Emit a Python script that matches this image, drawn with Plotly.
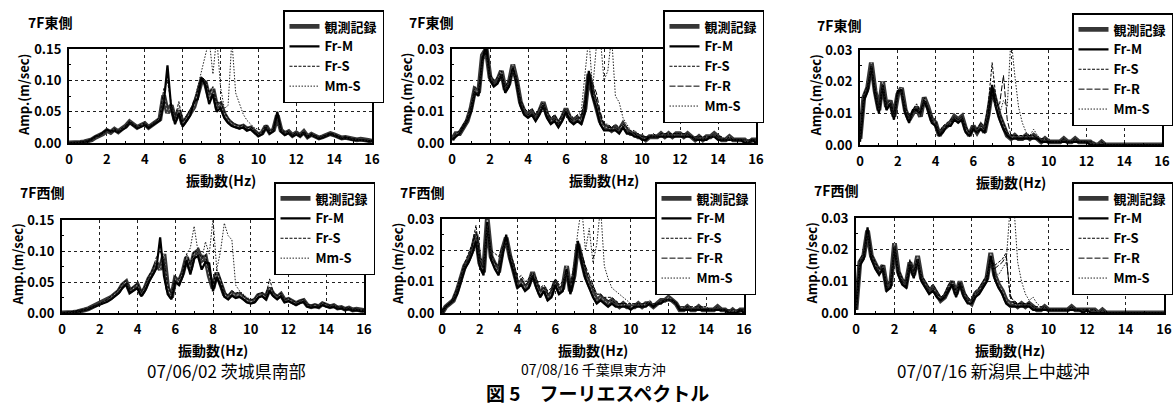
import plotly.graph_objects as go

# Frequency grid (Hz) shared by every spectrum
FREQ = [round(0.2 * k, 1) for k in range(81)]

# ---- 07/06/02 茨城県南部, 7F東側 (m/sec) ----
A_OBS = [0.000, 0.000, 0.001, 0.001, 0.002, 0.003, 0.005, 0.009, 0.011, 0.015,
         0.020, 0.017, 0.022, 0.018, 0.023, 0.027, 0.034, 0.030, 0.025, 0.028,
         0.031, 0.025, 0.029, 0.033, 0.038, 0.076, 0.048, 0.060, 0.036, 0.052,
         0.030, 0.038, 0.048, 0.058, 0.078, 0.100, 0.096, 0.072, 0.086, 0.058,
         0.062, 0.046, 0.036, 0.030, 0.027, 0.025, 0.027, 0.022, 0.024, 0.018,
         0.013, 0.016, 0.027, 0.017, 0.021, 0.044, 0.020, 0.015, 0.018, 0.012,
         0.016, 0.012, 0.018, 0.010, 0.014, 0.011, 0.008, 0.010, 0.012, 0.015,
         0.013, 0.010, 0.008, 0.009, 0.007, 0.006, 0.005, 0.006, 0.004, 0.004,
         0.003]
A_FRM = [0.000, 0.000, 0.001, 0.001, 0.002, 0.003, 0.006, 0.010, 0.012, 0.016,
         0.021, 0.018, 0.020, 0.017, 0.021, 0.025, 0.032, 0.028, 0.024, 0.026,
         0.029, 0.024, 0.028, 0.031, 0.036, 0.062, 0.124, 0.055, 0.030, 0.048,
         0.026, 0.035, 0.044, 0.066, 0.070, 0.104, 0.092, 0.062, 0.078, 0.050,
         0.056, 0.040, 0.032, 0.027, 0.025, 0.023, 0.025, 0.020, 0.022, 0.016,
         0.011, 0.014, 0.024, 0.015, 0.019, 0.050, 0.018, 0.013, 0.016, 0.011,
         0.014, 0.011, 0.016, 0.009, 0.013, 0.010, 0.007, 0.009, 0.011, 0.014,
         0.012, 0.009, 0.007, 0.008, 0.006, 0.005, 0.005, 0.005, 0.004, 0.003,
         0.003]
A_FRS = [0.000, 0.000, 0.001, 0.001, 0.002, 0.004, 0.006, 0.011, 0.013, 0.017,
         0.022, 0.019, 0.023, 0.019, 0.024, 0.028, 0.035, 0.031, 0.026, 0.029,
         0.032, 0.026, 0.030, 0.035, 0.042, 0.086, 0.098, 0.064, 0.040, 0.066,
         0.034, 0.042, 0.054, 0.064, 0.084, 0.106, 0.100, 0.080, 0.090, 0.064,
         0.066, 0.050, 0.040, 0.034, 0.030, 0.027, 0.029, 0.024, 0.026, 0.020,
         0.015, 0.017, 0.029, 0.019, 0.022, 0.046, 0.022, 0.017, 0.019, 0.013,
         0.017, 0.013, 0.019, 0.011, 0.015, 0.012, 0.009, 0.011, 0.013, 0.016,
         0.014, 0.011, 0.009, 0.010, 0.008, 0.007, 0.006, 0.006, 0.005, 0.004,
         0.004]
A_MMS = [0.000, 0.000, 0.001, 0.001, 0.002, 0.003, 0.005, 0.009, 0.012, 0.015,
         0.019, 0.017, 0.021, 0.018, 0.022, 0.026, 0.032, 0.029, 0.025, 0.027,
         0.030, 0.026, 0.030, 0.034, 0.040, 0.070, 0.060, 0.058, 0.040, 0.056,
         0.036, 0.044, 0.054, 0.066, 0.090, 0.118, 0.145, 0.165, 0.110, 0.170,
         0.090, 0.055, 0.060, 0.165, 0.080, 0.062, 0.046, 0.036, 0.030, 0.024,
         0.022, 0.020, 0.024, 0.018, 0.020, 0.036, 0.020, 0.016, 0.017, 0.012,
         0.015, 0.012, 0.016, 0.010, 0.013, 0.011, 0.008, 0.010, 0.011, 0.013,
         0.012, 0.009, 0.008, 0.008, 0.007, 0.006, 0.005, 0.005, 0.004, 0.004,
         0.003]

# ---- 07/08/16 千葉県東方沖, 7F東側 ----
B_OBS = [0.001, 0.003, 0.003, 0.005, 0.007, 0.011, 0.017, 0.016, 0.028, 0.030,
         0.021, 0.019, 0.020, 0.023, 0.017, 0.019, 0.025, 0.020, 0.013, 0.010,
         0.009, 0.010, 0.008, 0.010, 0.013, 0.009, 0.007, 0.008, 0.006, 0.008,
         0.011, 0.008, 0.007, 0.008, 0.007, 0.011, 0.022, 0.016, 0.012, 0.007,
         0.005, 0.005, 0.004, 0.005, 0.004, 0.006, 0.004, 0.003, 0.003, 0.002,
         0.002, 0.001, 0.002, 0.002, 0.002, 0.003, 0.002, 0.003, 0.002, 0.003,
         0.003, 0.002, 0.003, 0.002, 0.001, 0.002, 0.001, 0.002, 0.002, 0.003,
         0.002, 0.001, 0.001, 0.002, 0.001, 0.001, 0.001, 0.001, 0.000, 0.001,
         0.001]
B_FRM = [0.001, 0.002, 0.003, 0.005, 0.007, 0.010, 0.016, 0.015, 0.027, 0.031,
         0.020, 0.018, 0.019, 0.022, 0.016, 0.018, 0.024, 0.019, 0.012, 0.009,
         0.008, 0.009, 0.007, 0.009, 0.012, 0.008, 0.006, 0.007, 0.005, 0.007,
         0.010, 0.007, 0.006, 0.007, 0.006, 0.010, 0.023, 0.015, 0.011, 0.006,
         0.004, 0.004, 0.004, 0.004, 0.003, 0.005, 0.003, 0.003, 0.002, 0.002,
         0.001, 0.001, 0.002, 0.002, 0.002, 0.002, 0.002, 0.002, 0.002, 0.002,
         0.002, 0.002, 0.002, 0.002, 0.001, 0.001, 0.001, 0.001, 0.002, 0.002,
         0.001, 0.001, 0.001, 0.001, 0.001, 0.001, 0.001, 0.000, 0.000, 0.001,
         0.000]
B_FRS = [0.001, 0.003, 0.004, 0.006, 0.008, 0.012, 0.018, 0.017, 0.027, 0.029,
         0.022, 0.020, 0.021, 0.023, 0.018, 0.020, 0.024, 0.021, 0.014, 0.011,
         0.010, 0.011, 0.009, 0.011, 0.013, 0.010, 0.008, 0.009, 0.007, 0.009,
         0.011, 0.009, 0.008, 0.009, 0.009, 0.014, 0.021, 0.018, 0.014, 0.009,
         0.006, 0.006, 0.005, 0.006, 0.005, 0.006, 0.005, 0.004, 0.003, 0.003,
         0.002, 0.002, 0.002, 0.003, 0.002, 0.003, 0.003, 0.003, 0.003, 0.003,
         0.003, 0.003, 0.003, 0.002, 0.002, 0.002, 0.002, 0.002, 0.002, 0.003,
         0.002, 0.002, 0.001, 0.002, 0.001, 0.001, 0.001, 0.001, 0.001, 0.001,
         0.001]
B_FRR = [0.001, 0.002, 0.003, 0.005, 0.007, 0.011, 0.016, 0.016, 0.026, 0.029,
         0.021, 0.019, 0.020, 0.022, 0.017, 0.019, 0.024, 0.020, 0.013, 0.010,
         0.009, 0.010, 0.008, 0.010, 0.012, 0.009, 0.007, 0.008, 0.006, 0.008,
         0.010, 0.008, 0.007, 0.008, 0.008, 0.012, 0.020, 0.019, 0.016, 0.010,
         0.006, 0.005, 0.005, 0.005, 0.004, 0.005, 0.004, 0.003, 0.003, 0.002,
         0.002, 0.002, 0.002, 0.002, 0.002, 0.003, 0.002, 0.003, 0.002, 0.003,
         0.003, 0.002, 0.003, 0.002, 0.001, 0.002, 0.001, 0.002, 0.002, 0.002,
         0.002, 0.001, 0.001, 0.001, 0.001, 0.001, 0.001, 0.001, 0.000, 0.001,
         0.001]
B_MMS = [0.001, 0.003, 0.003, 0.005, 0.007, 0.011, 0.016, 0.016, 0.026, 0.028,
         0.021, 0.019, 0.020, 0.022, 0.017, 0.019, 0.023, 0.020, 0.013, 0.010,
         0.009, 0.010, 0.008, 0.010, 0.012, 0.009, 0.007, 0.008, 0.007, 0.008,
         0.011, 0.009, 0.008, 0.009, 0.010, 0.022, 0.034, 0.017, 0.031, 0.034,
         0.020, 0.023, 0.034, 0.015, 0.013, 0.008, 0.006, 0.004, 0.004, 0.003,
         0.002, 0.002, 0.002, 0.002, 0.002, 0.003, 0.002, 0.003, 0.002, 0.003,
         0.003, 0.002, 0.003, 0.002, 0.001, 0.002, 0.001, 0.002, 0.002, 0.002,
         0.002, 0.001, 0.001, 0.001, 0.001, 0.001, 0.001, 0.001, 0.000, 0.001,
         0.001]

# ---- 07/07/16 新潟県上中越沖, 7F東側 ----
C_OBS = [0.002, 0.015, 0.018, 0.026, 0.017, 0.011, 0.020, 0.012, 0.014, 0.009,
         0.016, 0.018, 0.011, 0.008, 0.010, 0.012, 0.009, 0.015, 0.012, 0.008,
         0.007, 0.003, 0.005, 0.006, 0.007, 0.009, 0.008, 0.009, 0.005, 0.003,
         0.006, 0.004, 0.006, 0.004, 0.010, 0.018, 0.013, 0.009, 0.006, 0.003,
         0.002, 0.003, 0.002, 0.002, 0.003, 0.002, 0.003, 0.002, 0.001, 0.002,
         0.001, 0.001, 0.001, 0.001, 0.002, 0.001, 0.001, 0.002, 0.001, 0.001,
         0.001, 0.001, 0.000, 0.000, 0.001, 0.000, 0.000, 0.000, 0.000, 0.000,
         0.000, 0.000, 0.000, 0.000, 0.000, 0.000, 0.000, 0.000, 0.000, 0.000,
         0.000]
C_FRM = [0.001, 0.014, 0.017, 0.025, 0.016, 0.010, 0.019, 0.011, 0.013, 0.008,
         0.017, 0.017, 0.010, 0.007, 0.011, 0.011, 0.010, 0.014, 0.011, 0.007,
         0.006, 0.003, 0.004, 0.006, 0.006, 0.008, 0.007, 0.008, 0.004, 0.003,
         0.005, 0.004, 0.005, 0.004, 0.009, 0.019, 0.012, 0.008, 0.005, 0.003,
         0.002, 0.002, 0.002, 0.002, 0.002, 0.002, 0.002, 0.002, 0.001, 0.001,
         0.001, 0.001, 0.001, 0.001, 0.001, 0.001, 0.001, 0.001, 0.001, 0.001,
         0.001, 0.000, 0.000, 0.000, 0.000, 0.000, 0.000, 0.000, 0.000, 0.000,
         0.000, 0.000, 0.000, 0.000, 0.000, 0.000, 0.000, 0.000, 0.000, 0.000,
         0.000]
C_FRS = [0.002, 0.016, 0.019, 0.024, 0.018, 0.012, 0.019, 0.013, 0.014, 0.010,
         0.016, 0.017, 0.012, 0.009, 0.011, 0.013, 0.010, 0.014, 0.012, 0.009,
         0.008, 0.004, 0.006, 0.007, 0.008, 0.009, 0.008, 0.009, 0.006, 0.004,
         0.006, 0.005, 0.007, 0.006, 0.013, 0.026, 0.015, 0.010, 0.007, 0.004,
         0.003, 0.003, 0.003, 0.003, 0.003, 0.003, 0.003, 0.002, 0.002, 0.002,
         0.001, 0.001, 0.001, 0.001, 0.002, 0.001, 0.001, 0.002, 0.001, 0.001,
         0.001, 0.001, 0.001, 0.000, 0.001, 0.000, 0.000, 0.000, 0.000, 0.000,
         0.000, 0.000, 0.000, 0.000, 0.000, 0.000, 0.000, 0.000, 0.000, 0.000,
         0.000]
C_FRR = [0.002, 0.015, 0.018, 0.025, 0.017, 0.011, 0.019, 0.012, 0.013, 0.009,
         0.016, 0.018, 0.011, 0.008, 0.010, 0.012, 0.009, 0.015, 0.012, 0.008,
         0.007, 0.003, 0.005, 0.006, 0.007, 0.009, 0.008, 0.009, 0.005, 0.004,
         0.006, 0.004, 0.006, 0.005, 0.009, 0.016, 0.012, 0.013, 0.022, 0.008,
         0.003, 0.003, 0.002, 0.002, 0.003, 0.002, 0.003, 0.002, 0.001, 0.002,
         0.001, 0.001, 0.001, 0.001, 0.002, 0.001, 0.001, 0.002, 0.001, 0.001,
         0.001, 0.001, 0.000, 0.000, 0.001, 0.000, 0.000, 0.000, 0.000, 0.000,
         0.000, 0.000, 0.000, 0.000, 0.000, 0.000, 0.000, 0.000, 0.000, 0.000,
         0.000]
C_MMS = [0.002, 0.015, 0.018, 0.025, 0.017, 0.011, 0.019, 0.012, 0.013, 0.009,
         0.016, 0.017, 0.011, 0.008, 0.010, 0.012, 0.009, 0.014, 0.012, 0.008,
         0.007, 0.004, 0.005, 0.006, 0.007, 0.009, 0.008, 0.009, 0.005, 0.004,
         0.006, 0.004, 0.006, 0.005, 0.009, 0.015, 0.012, 0.010, 0.014, 0.012,
         0.034, 0.022, 0.012, 0.007, 0.004, 0.003, 0.005, 0.003, 0.002, 0.002,
         0.002, 0.001, 0.001, 0.001, 0.002, 0.001, 0.001, 0.002, 0.001, 0.001,
         0.001, 0.001, 0.000, 0.000, 0.001, 0.000, 0.000, 0.000, 0.000, 0.000,
         0.000, 0.000, 0.000, 0.000, 0.000, 0.000, 0.000, 0.000, 0.000, 0.000,
         0.000]

# ---- 07/06/02 茨城県南部, 7F西側 ----
D_OBS = [0.000, 0.000, 0.001, 0.001, 0.002, 0.003, 0.005, 0.007, 0.010, 0.012,
         0.014, 0.017, 0.020, 0.025, 0.030, 0.035, 0.045, 0.050, 0.035, 0.040,
         0.045, 0.030, 0.040, 0.055, 0.065, 0.080, 0.070, 0.095, 0.040, 0.025,
         0.055, 0.050, 0.065, 0.090, 0.070, 0.095, 0.100, 0.085, 0.090, 0.060,
         0.040, 0.065, 0.050, 0.030, 0.025, 0.032, 0.028, 0.030, 0.025, 0.020,
         0.018, 0.020, 0.028, 0.030, 0.025, 0.040, 0.030, 0.025, 0.030, 0.020,
         0.022, 0.018, 0.015, 0.018, 0.020, 0.012, 0.010, 0.012, 0.010, 0.015,
         0.012, 0.010, 0.012, 0.008, 0.009, 0.006, 0.008, 0.005, 0.006, 0.004,
         0.004]
D_FRM = [0.000, 0.000, 0.001, 0.001, 0.002, 0.003, 0.004, 0.006, 0.009, 0.011,
         0.013, 0.015, 0.018, 0.022, 0.027, 0.032, 0.040, 0.046, 0.032, 0.036,
         0.040, 0.027, 0.036, 0.050, 0.060, 0.072, 0.122, 0.060, 0.030, 0.022,
         0.050, 0.045, 0.060, 0.085, 0.062, 0.088, 0.092, 0.070, 0.082, 0.080,
         0.035, 0.058, 0.044, 0.026, 0.022, 0.028, 0.024, 0.026, 0.022, 0.017,
         0.015, 0.017, 0.025, 0.027, 0.022, 0.036, 0.027, 0.022, 0.027, 0.017,
         0.019, 0.016, 0.013, 0.016, 0.018, 0.010, 0.009, 0.010, 0.009, 0.013,
         0.010, 0.009, 0.010, 0.007, 0.008, 0.005, 0.007, 0.004, 0.005, 0.003,
         0.003]
D_FRS = [0.000, 0.001, 0.001, 0.002, 0.003, 0.004, 0.006, 0.008, 0.011, 0.013,
         0.015, 0.018, 0.022, 0.027, 0.032, 0.038, 0.048, 0.052, 0.038, 0.043,
         0.048, 0.034, 0.044, 0.060, 0.070, 0.090, 0.100, 0.085, 0.045, 0.030,
         0.060, 0.055, 0.070, 0.095, 0.078, 0.100, 0.098, 0.090, 0.094, 0.066,
         0.046, 0.070, 0.055, 0.034, 0.028, 0.036, 0.032, 0.034, 0.028, 0.023,
         0.021, 0.023, 0.031, 0.033, 0.028, 0.055, 0.033, 0.028, 0.032, 0.022,
         0.024, 0.020, 0.017, 0.020, 0.022, 0.014, 0.012, 0.014, 0.012, 0.017,
         0.014, 0.012, 0.013, 0.010, 0.010, 0.008, 0.009, 0.006, 0.007, 0.005,
         0.005]
D_MMS = [0.000, 0.000, 0.001, 0.001, 0.002, 0.003, 0.005, 0.007, 0.010, 0.012,
         0.014, 0.017, 0.020, 0.024, 0.029, 0.034, 0.044, 0.048, 0.036, 0.040,
         0.044, 0.032, 0.042, 0.056, 0.066, 0.082, 0.080, 0.090, 0.045, 0.030,
         0.058, 0.055, 0.070, 0.095, 0.105, 0.140, 0.100, 0.085, 0.115, 0.095,
         0.152, 0.070, 0.100, 0.145, 0.125, 0.118, 0.045, 0.036, 0.030, 0.025,
         0.022, 0.023, 0.030, 0.031, 0.027, 0.042, 0.031, 0.026, 0.030, 0.021,
         0.022, 0.019, 0.016, 0.018, 0.020, 0.013, 0.011, 0.012, 0.011, 0.015,
         0.012, 0.010, 0.012, 0.008, 0.009, 0.007, 0.008, 0.005, 0.006, 0.004,
         0.004]

# ---- 07/08/16 千葉県東方沖, 7F西側 ----
E_OBS = [0.000, 0.002, 0.003, 0.004, 0.007, 0.011, 0.015, 0.017, 0.020, 0.025,
         0.016, 0.013, 0.030, 0.018, 0.015, 0.013, 0.020, 0.024, 0.018, 0.014,
         0.009, 0.010, 0.008, 0.009, 0.013, 0.009, 0.006, 0.008, 0.005, 0.006,
         0.010, 0.007, 0.008, 0.015, 0.007, 0.012, 0.022, 0.017, 0.012, 0.009,
         0.006, 0.004, 0.005, 0.004, 0.003, 0.004, 0.003, 0.002, 0.003, 0.002,
         0.002, 0.002, 0.003, 0.002, 0.003, 0.003, 0.002, 0.003, 0.004, 0.004,
         0.005, 0.004, 0.003, 0.001, 0.001, 0.002, 0.001, 0.001, 0.002, 0.001,
         0.001, 0.001, 0.001, 0.002, 0.001, 0.001, 0.000, 0.001, 0.000, 0.001,
         0.001]
E_FRM = [0.000, 0.002, 0.003, 0.004, 0.006, 0.010, 0.014, 0.016, 0.019, 0.023,
         0.015, 0.012, 0.029, 0.017, 0.014, 0.012, 0.019, 0.025, 0.017, 0.013,
         0.008, 0.009, 0.007, 0.008, 0.012, 0.008, 0.005, 0.007, 0.004, 0.005,
         0.009, 0.006, 0.007, 0.014, 0.006, 0.011, 0.023, 0.016, 0.011, 0.008,
         0.005, 0.003, 0.004, 0.003, 0.002, 0.003, 0.002, 0.002, 0.002, 0.002,
         0.001, 0.002, 0.002, 0.002, 0.002, 0.003, 0.002, 0.003, 0.003, 0.004,
         0.004, 0.004, 0.003, 0.001, 0.001, 0.001, 0.001, 0.001, 0.001, 0.001,
         0.001, 0.001, 0.001, 0.001, 0.001, 0.001, 0.000, 0.000, 0.000, 0.001,
         0.000]
E_FRS = [0.001, 0.002, 0.003, 0.005, 0.008, 0.012, 0.016, 0.019, 0.022, 0.028,
         0.018, 0.016, 0.027, 0.020, 0.019, 0.018, 0.021, 0.022, 0.019, 0.016,
         0.011, 0.012, 0.010, 0.011, 0.013, 0.011, 0.008, 0.009, 0.007, 0.008,
         0.011, 0.009, 0.010, 0.013, 0.009, 0.014, 0.020, 0.018, 0.014, 0.011,
         0.008, 0.006, 0.006, 0.005, 0.005, 0.005, 0.004, 0.003, 0.003, 0.003,
         0.003, 0.003, 0.003, 0.003, 0.003, 0.004, 0.003, 0.003, 0.004, 0.004,
         0.004, 0.004, 0.003, 0.002, 0.002, 0.002, 0.002, 0.002, 0.002, 0.002,
         0.002, 0.001, 0.001, 0.002, 0.001, 0.001, 0.001, 0.001, 0.001, 0.001,
         0.001]
E_FRR = [0.000, 0.002, 0.003, 0.004, 0.007, 0.011, 0.015, 0.017, 0.021, 0.026,
         0.017, 0.014, 0.028, 0.019, 0.016, 0.015, 0.020, 0.023, 0.018, 0.015,
         0.010, 0.011, 0.009, 0.010, 0.012, 0.010, 0.007, 0.008, 0.006, 0.007,
         0.010, 0.008, 0.009, 0.013, 0.008, 0.013, 0.021, 0.019, 0.015, 0.012,
         0.009, 0.006, 0.006, 0.005, 0.004, 0.004, 0.003, 0.003, 0.003, 0.002,
         0.002, 0.002, 0.003, 0.002, 0.003, 0.003, 0.002, 0.003, 0.004, 0.004,
         0.004, 0.004, 0.003, 0.001, 0.001, 0.002, 0.001, 0.001, 0.002, 0.001,
         0.001, 0.001, 0.001, 0.001, 0.001, 0.001, 0.000, 0.001, 0.000, 0.001,
         0.001]
E_MMS = [0.000, 0.002, 0.003, 0.004, 0.007, 0.011, 0.015, 0.017, 0.020, 0.025,
         0.016, 0.014, 0.028, 0.018, 0.016, 0.014, 0.020, 0.023, 0.018, 0.015,
         0.010, 0.011, 0.009, 0.010, 0.012, 0.010, 0.007, 0.008, 0.006, 0.007,
         0.010, 0.008, 0.009, 0.013, 0.009, 0.016, 0.026, 0.034, 0.020, 0.027,
         0.016, 0.022, 0.034, 0.015, 0.011, 0.008, 0.007, 0.006, 0.005, 0.004,
         0.003, 0.003, 0.003, 0.003, 0.003, 0.003, 0.003, 0.003, 0.004, 0.004,
         0.004, 0.004, 0.003, 0.002, 0.002, 0.002, 0.001, 0.002, 0.002, 0.002,
         0.002, 0.001, 0.001, 0.002, 0.001, 0.001, 0.001, 0.001, 0.001, 0.001,
         0.001]

# ---- 07/07/16 新潟県上中越沖, 7F西側 ----
F_OBS = [0.001, 0.016, 0.018, 0.026, 0.018, 0.015, 0.013, 0.015, 0.008, 0.009,
         0.022, 0.013, 0.010, 0.009, 0.016, 0.012, 0.018, 0.011, 0.009, 0.007,
         0.008, 0.006, 0.004, 0.005, 0.008, 0.010, 0.006, 0.010, 0.006, 0.004,
         0.003, 0.006, 0.007, 0.009, 0.011, 0.019, 0.012, 0.009, 0.007, 0.004,
         0.003, 0.003, 0.002, 0.003, 0.002, 0.003, 0.002, 0.001, 0.001, 0.002,
         0.001, 0.001, 0.001, 0.001, 0.001, 0.001, 0.002, 0.001, 0.001, 0.001,
         0.001, 0.001, 0.001, 0.000, 0.001, 0.000, 0.000, 0.000, 0.000, 0.000,
         0.000, 0.000, 0.000, 0.000, 0.000, 0.000, 0.000, 0.000, 0.000, 0.000,
         0.000]
F_FRM = [0.001, 0.015, 0.017, 0.027, 0.017, 0.014, 0.012, 0.014, 0.007, 0.008,
         0.021, 0.012, 0.009, 0.008, 0.015, 0.011, 0.017, 0.010, 0.008, 0.006,
         0.007, 0.005, 0.004, 0.005, 0.007, 0.009, 0.005, 0.009, 0.005, 0.003,
         0.003, 0.005, 0.006, 0.008, 0.010, 0.018, 0.011, 0.008, 0.006, 0.003,
         0.002, 0.002, 0.002, 0.002, 0.002, 0.002, 0.001, 0.001, 0.001, 0.001,
         0.001, 0.001, 0.001, 0.001, 0.001, 0.001, 0.001, 0.001, 0.001, 0.000,
         0.001, 0.000, 0.000, 0.000, 0.000, 0.000, 0.000, 0.000, 0.000, 0.000,
         0.000, 0.000, 0.000, 0.000, 0.000, 0.000, 0.000, 0.000, 0.000, 0.000,
         0.000]
F_FRS = [0.002, 0.017, 0.019, 0.024, 0.019, 0.016, 0.014, 0.015, 0.009, 0.010,
         0.020, 0.014, 0.011, 0.010, 0.017, 0.013, 0.017, 0.012, 0.010, 0.008,
         0.009, 0.007, 0.005, 0.006, 0.009, 0.010, 0.007, 0.010, 0.007, 0.005,
         0.004, 0.007, 0.008, 0.010, 0.012, 0.017, 0.015, 0.016, 0.017, 0.019,
         0.005, 0.004, 0.003, 0.003, 0.003, 0.003, 0.002, 0.002, 0.002, 0.002,
         0.001, 0.001, 0.001, 0.001, 0.001, 0.001, 0.002, 0.001, 0.001, 0.001,
         0.001, 0.001, 0.001, 0.000, 0.001, 0.000, 0.000, 0.000, 0.000, 0.000,
         0.000, 0.000, 0.000, 0.000, 0.000, 0.000, 0.000, 0.000, 0.000, 0.000,
         0.000]
F_FRR = [0.001, 0.016, 0.018, 0.025, 0.018, 0.015, 0.013, 0.015, 0.008, 0.009,
         0.021, 0.013, 0.010, 0.009, 0.016, 0.012, 0.017, 0.011, 0.009, 0.007,
         0.008, 0.006, 0.005, 0.005, 0.008, 0.010, 0.006, 0.010, 0.006, 0.004,
         0.004, 0.006, 0.007, 0.009, 0.011, 0.017, 0.014, 0.015, 0.016, 0.018,
         0.006, 0.003, 0.003, 0.003, 0.002, 0.003, 0.002, 0.001, 0.001, 0.002,
         0.001, 0.001, 0.001, 0.001, 0.001, 0.001, 0.002, 0.001, 0.001, 0.001,
         0.001, 0.001, 0.001, 0.000, 0.001, 0.000, 0.000, 0.000, 0.000, 0.000,
         0.000, 0.000, 0.000, 0.000, 0.000, 0.000, 0.000, 0.000, 0.000, 0.000,
         0.000]
F_MMS = [0.001, 0.016, 0.018, 0.025, 0.018, 0.015, 0.013, 0.015, 0.008, 0.009,
         0.021, 0.013, 0.010, 0.009, 0.016, 0.012, 0.017, 0.011, 0.009, 0.007,
         0.008, 0.006, 0.005, 0.005, 0.008, 0.010, 0.006, 0.010, 0.006, 0.004,
         0.004, 0.006, 0.007, 0.009, 0.011, 0.016, 0.013, 0.012, 0.014, 0.016,
         0.033, 0.034, 0.016, 0.010, 0.006, 0.004, 0.005, 0.003, 0.002, 0.002,
         0.001, 0.001, 0.001, 0.001, 0.001, 0.001, 0.002, 0.001, 0.001, 0.001,
         0.001, 0.001, 0.001, 0.000, 0.001, 0.000, 0.000, 0.000, 0.000, 0.000,
         0.000, 0.000, 0.000, 0.000, 0.000, 0.000, 0.000, 0.000, 0.000, 0.000,
         0.000]

EVENTS = ["07/06/02 茨城県南部", "07/08/16 千葉県東方沖", "07/07/16 新潟県上中越沖"]
FIG_CAPTION = "図 5　フーリエスペクトル"
X_TITLE = "振動数(Hz)"
Y_TITLE = "Amp.(m/sec)"

# ---------------------------------------------------------------------------
W, H = 1176, 405
FONT = "Noto Sans CJK JP, Noto Sans, sans-serif"

LINE_STYLES = {
    "観測記録": dict(color="#363636", width=4.8),
    "Fr-M": dict(color="black", width=2.2),
    "Fr-S": dict(color="black", width=1, dash="3px,1.5px"),
    "Fr-R": dict(color="black", width=1, dash="6px,2px"),
    "Mm-S": dict(color="#222222", width=1, dash="1.5px,1.5px"),
}

# plot boxes in pixels: (left, right, top, bottom)
PANELS = [
    dict(series=[("観測記録", A_OBS), ("Fr-M", A_FRM), ("Fr-S", A_FRS), ("Mm-S", A_MMS)],
         ymax=0.15, dtick=0.05, box=(69, 372, 49, 143),
         head="7F東側", head_at=(26, 22), legend_at=(283, 10)),
    dict(series=[("観測記録", B_OBS), ("Fr-M", B_FRM), ("Fr-S", B_FRS), ("Fr-R", B_FRR), ("Mm-S", B_MMS)],
         ymax=0.03, dtick=0.01, box=(452, 756, 49, 143),
         head="7F東側", head_at=(407, 22), legend_at=(663, 10)),
    dict(series=[("観測記録", C_OBS), ("Fr-M", C_FRM), ("Fr-S", C_FRS), ("Fr-R", C_FRR), ("Mm-S", C_MMS)],
         ymax=0.03, dtick=0.01, box=(860, 1162, 50, 145),
         head="7F東側", head_at=(815, 25), legend_at=(1072, 13)),
    dict(series=[("観測記録", D_OBS), ("Fr-M", D_FRM), ("Fr-S", D_FRS), ("Mm-S", D_MMS)],
         ymax=0.15, dtick=0.05, box=(62, 364, 220, 313),
         head="7F西側", head_at=(18, 192), legend_at=(274, 182)),
    dict(series=[("観測記録", E_OBS), ("Fr-M", E_FRM), ("Fr-S", E_FRS), ("Fr-R", E_FRR), ("Mm-S", E_MMS)],
         ymax=0.03, dtick=0.01, box=(442, 744, 219, 313),
         head="7F西側", head_at=(398, 192), legend_at=(655, 182)),
    dict(series=[("観測記録", F_OBS), ("Fr-M", F_FRM), ("Fr-S", F_FRS), ("Fr-R", F_FRR), ("Mm-S", F_MMS)],
         ymax=0.03, dtick=0.01, box=(856, 1164, 218, 313),
         head="7F西側", head_at=(812, 190), legend_at=(1072, 182)),
]


def px_x(v):
    return v / W


def px_y(v):
    return 1 - v / H


fig = go.Figure()
layout = dict(
    width=W, height=H,
    margin=dict(l=0, r=0, t=0, b=0, autoexpand=False),
    paper_bgcolor="white", plot_bgcolor="white",
    font=dict(family=FONT, color="black"),
    annotations=[],
)

tick_font = dict(family=FONT, size=13, color="black", weight="bold")

for i, p in enumerate(PANELS, start=1):
    sfx = "" if i == 1 else str(i)
    xa, ya, lg = "x" + sfx, "y" + sfx, "legend" + sfx
    left, right, top, bottom = p["box"]

    for name, vals in p["series"]:
        fig.add_trace(go.Scatter(
            x=FREQ, y=vals, name=name, mode="lines", line=LINE_STYLES[name],
            xaxis=xa, yaxis=ya, legend=lg, hoverinfo="skip",
        ))
        if name == "観測記録":
            # light hatching running along the thick observed trace
            fig.add_trace(go.Scatter(
                x=FREQ, y=vals, mode="lines", showlegend=False,
                line=dict(color="#a8a8a8", width=1, dash="2px,2px"),
                xaxis=xa, yaxis=ya, legend=lg, hoverinfo="skip",
            ))

    common = dict(
        showline=True, linecolor="black", linewidth=2, mirror=True,
        showgrid=True, gridcolor="#222222", gridwidth=1, griddash="dot",
        zeroline=False, ticks="inside", ticklen=3, tickcolor="black",
        tickfont=tick_font, fixedrange=True,
    )
    layout["xaxis" + sfx] = dict(
        common, domain=[px_x(left), px_x(right)], anchor=ya,
        range=[0, 16], tick0=0, dtick=2, ticklabelstandoff=3,
        minor=dict(ticks="inside", ticklen=2, dtick=1, tickcolor="black", showgrid=False),
    )
    layout["yaxis" + sfx] = dict(
        common, domain=[px_y(bottom), px_y(top)], anchor=xa,
        range=[0, p["ymax"]], tick0=0, dtick=p["dtick"], tickformat=".2f",
        ticklabelstandoff=3,
        minor=dict(ticks="inside", ticklen=2, dtick=p["dtick"] / 2, tickcolor="black", showgrid=False),
    )

    lx, ly = p["legend_at"]
    layout[lg] = dict(
        x=px_x(lx), y=px_y(ly), xanchor="left", yanchor="top",
        bgcolor="white", bordercolor="black", borderwidth=1.5,
        font=dict(family=FONT, size=13, color="black", weight="bold"),
        itemwidth=30, tracegroupgap=0, traceorder="normal",
        itemclick=False, itemdoubleclick=False,
    )

    hx, hy = p["head_at"]
    layout["annotations"].append(dict(
        text=p["head"], xref="paper", yref="paper", x=px_x(hx), y=px_y(hy),
        xanchor="left", yanchor="middle", showarrow=False,
        font=dict(family=FONT, size=14, weight="bold"),
    ))
    # axis titles
    layout["annotations"].append(dict(
        text=X_TITLE, xref="paper", yref="paper",
        x=px_x((left + right) / 2), y=px_y(bottom + 37),
        xanchor="center", yanchor="middle", showarrow=False,
        font=dict(family=FONT, size=14, weight="bold"),
    ))
    layout["annotations"].append(dict(
        text=Y_TITLE, xref="paper", yref="paper", textangle=-90,
        x=px_x(left - 45), y=px_y((top + bottom) / 2 - 2),
        xanchor="center", yanchor="middle", showarrow=False,
        font=dict(family=FONT, size=13, weight="bold"),
    ))

# event names under each column and the figure caption
for text, cx, cy, size in [(EVENTS[0], 226, 370, 17), (EVENTS[1], 593, 369, 14),
                           (EVENTS[2], 993, 370, 17)]:
    layout["annotations"].append(dict(
        text=text, xref="paper", yref="paper", x=px_x(cx), y=px_y(cy),
        xanchor="center", yanchor="middle", showarrow=False,
        font=dict(family=FONT, size=size),
    ))
layout["annotations"].append(dict(
    text=FIG_CAPTION, xref="paper", yref="paper", x=px_x(597), y=px_y(392),
    xanchor="center", yanchor="middle", showarrow=False,
    font=dict(family=FONT, size=19, weight="bold"),
))

fig.update_layout(**layout)
fig.write_html("out.html")
